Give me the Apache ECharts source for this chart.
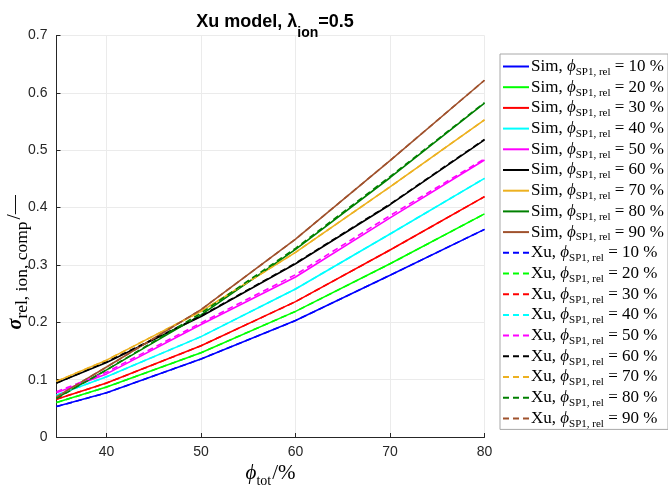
<!DOCTYPE html>
<html><head><meta charset="utf-8">
<script src="https://cdn.jsdelivr.net/npm/echarts@6/dist/echarts.min.js"></script>
<style>html,body{margin:0;padding:0;background:#fff}#c{width:668px;height:487px}</style>
</head><body><div id="c"></div>
<script>
const phiTot = [34.7, 40, 50, 60, 70, 80];
const fractions = [10, 20, 30, 40, 50, 60, 70, 80, 90];
const colors = ['#0000ff', '#00ff00', '#ff0000', '#00ffff', '#ff00ff', '#000000', '#edb120', '#008000', '#a0522d'];
const sim10 = [0.053, 0.077, 0.136, 0.203, 0.282, 0.362];
const sim20 = [0.060, 0.087, 0.147, 0.219, 0.302, 0.389];
const sim30 = [0.066, 0.094, 0.159, 0.236, 0.326, 0.419];
const sim40 = [0.073, 0.105, 0.175, 0.258, 0.354, 0.451];
const sim50 = [0.077, 0.110, 0.196, 0.279, 0.382, 0.483];
const sim60 = [0.094, 0.130, 0.210, 0.302, 0.405, 0.518];
const sim70 = [0.097, 0.134, 0.219, 0.322, 0.436, 0.553];
const sim80 = [0.068, 0.117, 0.213, 0.327, 0.452, 0.582];
const sim90 = [0.070, 0.122, 0.222, 0.345, 0.482, 0.622];
const xu10 = [0.053, 0.077, 0.136, 0.203, 0.282, 0.362];
const xu20 = [0.060, 0.087, 0.147, 0.219, 0.302, 0.389];
const xu30 = [0.066, 0.094, 0.159, 0.236, 0.326, 0.419];
const xu40 = [0.073, 0.105, 0.175, 0.258, 0.354, 0.451];
const xu50 = [0.079, 0.113, 0.199, 0.283, 0.386, 0.485];
const xu60 = [0.094, 0.131, 0.211, 0.303, 0.406, 0.519];
const xu70 = [0.097, 0.134, 0.219, 0.322, 0.436, 0.553];
const xu80 = [0.067, 0.117, 0.216, 0.329, 0.454, 0.583];
const xu90 = [0.070, 0.122, 0.222, 0.345, 0.482, 0.622];
const xTicks = [40, 50, 60, 70, 80];
const simData = [sim10, sim20, sim30, sim40, sim50, sim60, sim70, sim80, sim90];
const xuData = [xu10, xu20, xu30, xu40, xu50, xu60, xu70, xu80, xu90];

const series = [];
const legendNames = [];
function mk(kind, arr, i) {
  const name = kind + '|' + fractions[i];
  legendNames.push(name);
  series.push({
    name: name, type: 'line', symbol: 'none', smooth: false,
    data: phiTot.map((x, k) => [x, arr[k]]),
    lineStyle: { color: colors[i], width: 1.6, type: kind === 'Xu' ? [6, 4] : 'solid' },
    itemStyle: { color: colors[i] },
    z: kind === 'Xu' ? 3 : 2
  });
}
simData.forEach((a, i) => mk('Sim', a, i));
xuData.forEach((a, i) => mk('Xu', a, i));

const serif = 'Liberation Serif';
const chart = echarts.init(document.getElementById('c'));
chart.setOption({
  animation: false,
  backgroundColor: '#fff',
  title: {
    text: '{b|Xu model, }{l|λ}{s|ion}{b|=0.5}',
    left: 270, top: 4, textAlign: 'center',
    textStyle: {
      rich: {
        b: { fontFamily: 'Liberation Sans', fontWeight: 'bold', fontSize: 18, color: '#000', lineHeight: 26, verticalAlign: 'middle' },
        l: { fontFamily: 'Liberation Sans', fontSize: 18, color: '#000', lineHeight: 26, verticalAlign: 'middle' },
        s: { fontFamily: 'Liberation Sans', fontWeight: 'bold', fontSize: 14, color: '#000', verticalAlign: 'bottom', lineHeight: 12, padding: [0, 0, -5, 0] }
      }
    }
  },
  grid: { left: 56.5, top: 35.5, right: 183.5, bottom: 50, containLabel: false, outerBoundsMode: 'none' },
  xAxis: {
    type: 'value', min: 34.7, max: 80,
    name: '{p|ϕ}{s|tot}{n|/%}', nameLocation: 'middle', nameGap: 24, nameMoveOverlap: false,
    nameTextStyle: { rich: {
      p: { fontFamily: serif, fontStyle: 'italic', fontSize: 21, color: '#000', lineHeight: 24, verticalAlign: 'middle' },
      s: { fontFamily: serif, fontSize: 14, color: '#000', verticalAlign: 'bottom', lineHeight: 12, padding: [0, 1, -3, 0] },
      n: { fontFamily: serif, fontSize: 21, color: '#000', lineHeight: 24, verticalAlign: 'middle' }
    } },
    axisLine: { show: true, lineStyle: { color: '#262626', width: 1 } },
    axisTick: { show: true, inside: true, length: 4, customValues: xTicks, lineStyle: { color: '#262626' } },
    axisLabel: { customValues: xTicks, fontFamily: 'Liberation Sans', fontSize: 14, color: '#262626', margin: 8 },
    splitLine: { show: true, lineStyle: { color: '#ebebeb', width: 1 } }
  },
  yAxis: {
    type: 'value', min: 0, max: 0.7, interval: 0.1,
    name: '{p|σ}{s|rel, ion, comp}{n|/—}', nameLocation: 'middle', nameGap: 29, nameRotate: 90, nameMoveOverlap: false,
    nameTextStyle: { padding: [0, 52, 0, 0], rich: {
      p: { fontFamily: serif, fontStyle: 'italic', fontWeight: 'bold', fontSize: 20, color: '#000', lineHeight: 24, verticalAlign: 'middle' },
      s: { fontFamily: serif, fontSize: 17.5, color: '#000', verticalAlign: 'bottom', lineHeight: 12, padding: [0, 2, -4, 0] },
      n: { fontFamily: serif, fontSize: 19, color: '#000', lineHeight: 24, verticalAlign: 'middle' }
    } },
    axisLine: { show: true, lineStyle: { color: '#262626', width: 1 } },
    axisTick: { show: true, inside: true, length: 4, lineStyle: { color: '#262626' } },
    axisLabel: { fontFamily: 'Liberation Sans', fontSize: 14, color: '#262626', margin: 9 },
    splitLine: { show: true, lineStyle: { color: '#ebebeb', width: 1 } }
  },
  legend: {
    data: legendNames, orient: 'vertical', left: 500, top: 54,
    itemWidth: 26, itemHeight: 14, itemGap: 1.2,
    padding: [4, 4, 0, 2],
    borderColor: '#a8a8a8', borderWidth: 1, backgroundColor: '#fff',
    itemStyle: { color: 'rgba(0,0,0,0)', borderWidth: 0, opacity: 0 },
    formatter: function (name) {
      const p = name.split('|');
      return '{n|' + p[0] + ', }{p|ϕ}{s|SP1, rel}{n| = ' + p[1] + ' %}';
    },
    textStyle: { padding: [0, 0, 0, -3], rich: {
      n: { fontFamily: serif, fontSize: 17, color: '#000', lineHeight: 16, verticalAlign: 'middle' },
      p: { fontFamily: serif, fontStyle: 'italic', fontSize: 17, color: '#000', lineHeight: 16, verticalAlign: 'middle' },
      s: { fontFamily: serif, fontSize: 11, color: '#000', verticalAlign: 'bottom', lineHeight: 10, padding: [0, 0, -3, 0] }
    } }
  },
  series: series
});
</script></body></html>
